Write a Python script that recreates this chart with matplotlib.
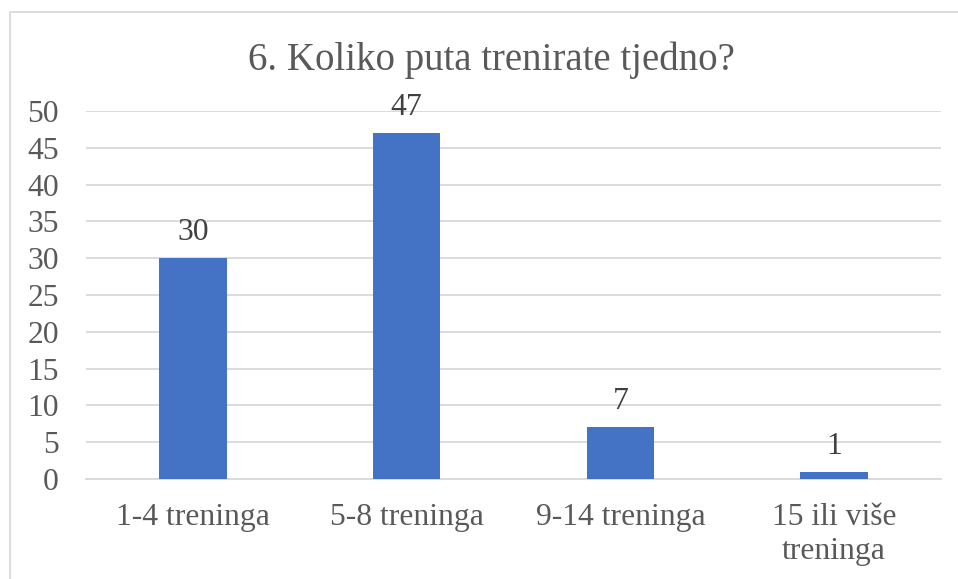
import matplotlib
matplotlib.use("Agg")
import matplotlib.pyplot as plt
from matplotlib.patches import Rectangle

categories = ["1-4 treninga", "5-8 treninga", "9-14 treninga", "15 ili više\ntreninga"]
values = [30, 47, 7, 1]
yticks = [0, 5, 10, 15, 20, 25, 30, 35, 40, 45, 50]
title = "6. Koliko puta trenirate tjedno?"

W, H = 958, 579
fig = plt.figure(figsize=(W / 100, H / 100), dpi=100)
plt.rcParams['font.family'] = ['Liberation Serif', 'DejaVu Serif']
txt = "#595959"

fig.patches.append(Rectangle((10 / W, -0.05), 1.2, (H - 12) / H + 0.05,
                             transform=fig.transFigure, fill=False,
                             edgecolor="#d9d9d9", linewidth=1.3))

ax = fig.add_axes([86 / W, (H - 479) / H, (941 - 86) / W, (479 - 111) / H])
x = list(range(len(categories)))
bars = ax.bar(x, values, width=0.315, color="#4472C4", zorder=3)
ax.set_xlim(-0.5, len(categories) - 0.5)
ax.set_ylim(0, 50)
ax.set_yticks(yticks)
ax.set_yticklabels([str(t) for t in yticks], fontsize=22.8, color=txt)
ax.set_xticks(x)
ax.set_xticklabels(categories, fontsize=22.8, color=txt, linespacing=1.2)
ax.tick_params(axis="y", length=0, pad=19.5)
ax.tick_params(axis="x", length=0, pad=17.5)
ax.grid(axis="y", color="#d9d9d9", linewidth=1.3, zorder=0)
for s in ["top", "right", "left"]:
    ax.spines[s].set_visible(False)
ax.spines["bottom"].set_color("#d9d9d9")
ax.spines["bottom"].set_linewidth(1.3)

for b, v in zip(bars, values):
    ax.annotate(str(v), (b.get_x() + b.get_width() / 2, v), xytext=(0, 8),
                textcoords="offset points", ha="center", va="bottom",
                fontsize=22.8, color="#404040")

fig.text(491 / W, (H - 60) / H, title, ha="center", va="center",
         fontsize=28, color=txt)

fig.savefig("out.png", dpi=100)
